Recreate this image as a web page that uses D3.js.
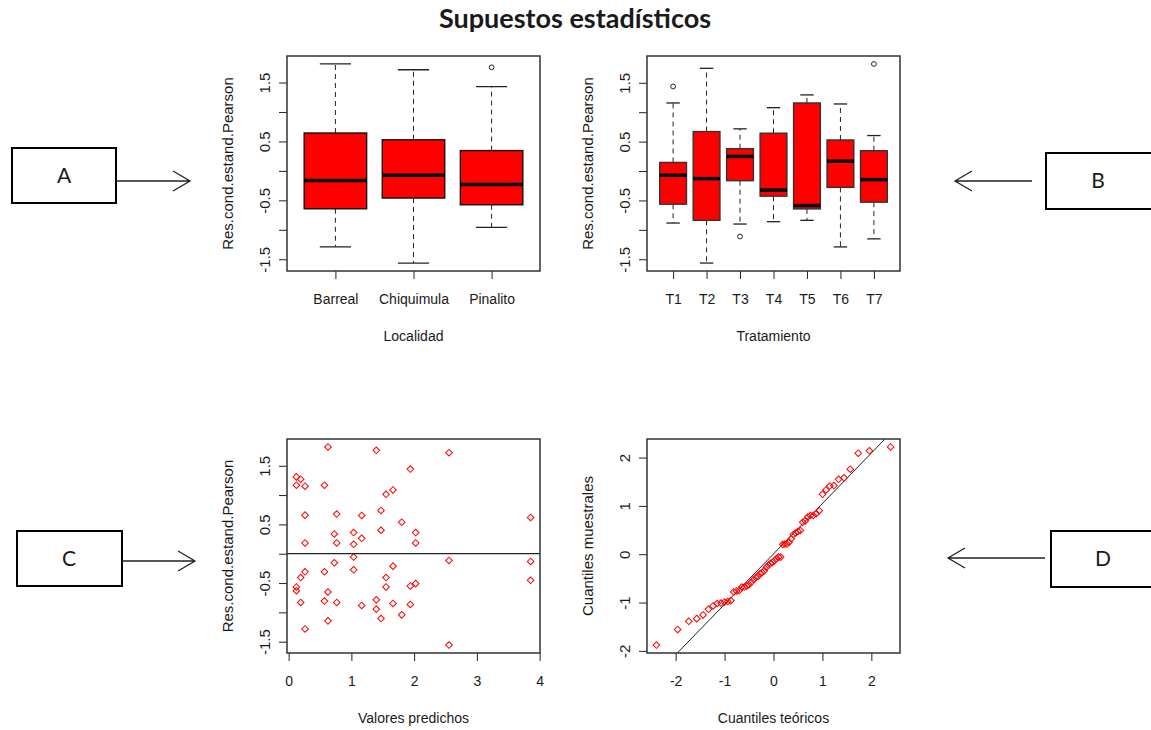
<!DOCTYPE html>
<html>
<head>
<meta charset="utf-8">
<script src="https://cdn.jsdelivr.net/npm/d3@7"></script>
<style>
body { margin: 0; background: #fff; }
text { font-family: "Liberation Sans", Arial, sans-serif; fill: #1a1a1a; }
</style>
</head>
<body>
<div id="chart"></div>
<script>
// ---- data ----
// A: residuals by locality (boxplot stats)
var locCategories = ["Barreal", "Chiquimula", "Pinalito"];
var locLower  = [-1.29, -1.564, -0.959];
var locQ1     = [-0.643, -0.461, -0.575];
var locMedian = [-0.163, -0.072, -0.232];
var locQ3     = [0.643, 0.528, 0.345];
var locUpper  = [1.815, 1.717, 1.432];
var locOutliers = [[], [], [1.758]];

// B: residuals by treatment
var trtCategories = ["T1", "T2", "T3", "T4", "T5", "T6", "T7"];
var trtLower  = [-0.884, -1.564, -0.901, -0.861, -0.838, -1.29, -1.153];
var trtQ1     = [-0.564, -0.838, -0.164, -0.427, -0.644, -0.278, -0.529];
var trtMedian = [-0.072, -0.129, 0.248, -0.324, -0.587, 0.168, -0.146];
var trtQ3     = [0.146, 0.671, 0.38, 0.643, 1.157, 0.528, 0.345];
var trtUpper  = [1.157, 1.746, 0.717, 1.077, 1.294, 1.14, 0.603];
var trtOutliers = [[1.437], [], [-1.113], [], [], [], [1.82]];

// C: predicted values vs residuals
var predX = [0.627, 1.397, 2.556, 0.123, 0.192, 0.123, 0.261, 0.570, 1.940, 1.663, 1.552, 0.261, 0.766, 1.164,
  1.472, 1.802, 3.857, 0.728, 1.036, 1.164, 1.472, 2.024, 0.261, 0.766, 1.036, 2.024, 1.036, 2.556, 3.857, 0.728,
  1.663, 0.261, 0.570, 1.036, 0.192, 1.552, 3.857, 0.123, 0.123, 1.552, 1.940, 2.024, 0.627, 0.192, 0.570, 0.766,
  1.164, 1.397, 1.397, 1.663, 1.940, 1.802, 0.627, 1.472, 0.261, 2.556];
var residY = [1.821, 1.764, 1.723, 1.310, 1.271, 1.168, 1.151, 1.168, 1.443, 1.088, 1.013, 0.658, 0.676, 0.652,
  0.738, 0.538, 0.618, 0.337, 0.360, 0.263, 0.400, 0.360, 0.183, 0.183, 0.160, 0.183, -0.057, -0.115, -0.132, -0.155,
  -0.212, -0.309, -0.309, -0.275, -0.407, -0.407, -0.453, -0.567, -0.630, -0.567, -0.550, -0.510, -0.653, -0.831, -0.808, -0.831,
  -0.882, -0.785, -0.945, -0.848, -0.865, -1.043, -1.145, -1.106, -1.283, -1.558];

// D: sample quantiles (sorted)
var sampleQuantiles = [-1.88, -1.556, -1.389, -1.333, -1.257, -1.14, -1.07, -1.02, -1.01, -0.99, -0.98, -0.96,
  -0.78, -0.76, -0.75, -0.68, -0.68, -0.66, -0.63, -0.58, -0.53, -0.48, -0.46, -0.40, -0.38, -0.34, -0.27, -0.23,
  -0.19, -0.17, -0.13, -0.09, -0.06, -0.06, 0.20, 0.21, 0.21, 0.25, 0.32, 0.41, 0.44, 0.47, 0.49, 0.66, 0.69,
  0.77, 0.80, 0.80, 0.84, 0.90, 1.24, 1.33, 1.41, 1.42, 1.55, 1.58, 1.76, 2.09, 2.14, 2.22];

// tick values / labels
var resTicks = [-1.5, -1, -0.5, 0, 0.5, 1, 1.5];
var resTickLabels = ["-1.5", "", "-0.5", "", "0.5", "", "1.5"];
var predTicks = [0, 1, 2, 3, 4];
var qqTicks = [-2, -1, 0, 1, 2];

// ---- layout ----
var W = 1151, H = 730;
var svg = d3.select("#chart").append("svg").attr("width", W).attr("height", H);

var panels = {
  A: {x: 287, y: 56, w: 253, h: 215},
  B: {x: 647, y: 56, w: 253, h: 215},
  C: {x: 287, y: 439, w: 253, h: 214},
  D: {x: 647, y: 439, w: 253, h: 214}
};

// R style axis range: data range + 4% on each side
function rExtent(vals) {
  var e = d3.extent(vals), d = (e[1] - e[0]) * 0.04;
  return [e[0] - d, e[1] + d];
}

// plain hyphen minus like R
function plain(d) { return String(d); }

// inverse normal cdf (Acklam)
function qnorm(p) {
  var a = [-3.969683028665376e+01, 2.209460984245205e+02, -2.759285104469687e+02, 1.383577518672690e+02, -3.066479806614716e+01, 2.506628277459239e+00];
  var b = [-5.447609879822406e+01, 1.615858368580409e+02, -1.556989798598866e+02, 6.680131188771972e+01, -1.328068155288572e+01];
  var c = [-7.784894002430293e-03, -3.223964580411365e-01, -2.400758277161838e+00, -2.549732539343734e+00, 4.374664141464968e+00, 2.938163982698783e+00];
  var d = [7.784695709041462e-03, 3.224671290700398e-01, 2.445134137142996e+00, 3.754408661907416e+00];
  var pl = 0.02425, q, r;
  if (p < pl) {
    q = Math.sqrt(-2 * Math.log(p));
    return (((((c[0]*q+c[1])*q+c[2])*q+c[3])*q+c[4])*q+c[5]) / ((((d[0]*q+d[1])*q+d[2])*q+d[3])*q+1);
  }
  if (p > 1 - pl) {
    q = Math.sqrt(-2 * Math.log(1 - p));
    return -(((((c[0]*q+c[1])*q+c[2])*q+c[3])*q+c[4])*q+c[5]) / ((((d[0]*q+d[1])*q+d[2])*q+d[3])*q+1);
  }
  q = p - 0.5; r = q * q;
  return (((((a[0]*r+a[1])*r+a[2])*r+a[3])*r+a[4])*r+a[5])*q / (((((b[0]*r+b[1])*r+b[2])*r+b[3])*r+b[4])*r+1);
}

// frame, axes and axis titles for one panel
function drawAxes(g, p, x, y, xTicks, xFormat, yTicks, yFormat, xTitle, yTitle) {
  var xa = g.append("g")
      .attr("transform", "translate(0," + p.h + ")")
      .call(d3.axisBottom(x).tickValues(xTicks).tickFormat(xFormat).tickSize(8).tickPadding(15));
  xa.select(".domain").remove();
  xa.selectAll("line").attr("stroke", "#222");
  xa.selectAll("text").attr("font-size", "14px").attr("font-family", null);

  var ya = g.append("g")
      .call(d3.axisLeft(y).tickValues(yTicks).tickFormat(yFormat).tickSize(8));
  ya.select(".domain").remove();
  ya.selectAll("line").attr("stroke", "#222");
  ya.selectAll("text")
      .attr("font-size", "15px").attr("font-family", null)
      .attr("transform", "rotate(-90)")
      .attr("text-anchor", "middle")
      .attr("x", 0).attr("y", -22).attr("dy", "0.35em");

  g.append("rect")
      .attr("width", p.w).attr("height", p.h)
      .attr("fill", "none").attr("stroke", "#333").attr("stroke-width", 1.5);

  g.append("text")
      .attr("x", p.w / 2).attr("y", p.h + 65).attr("dy", "0.35em")
      .attr("text-anchor", "middle").attr("font-size", "14px")
      .text(xTitle);
  g.append("text")
      .attr("transform", "translate(-59," + (p.h / 2) + ") rotate(-90)")
      .attr("dy", "0.35em")
      .attr("text-anchor", "middle").attr("font-size", "15px")
      .text(yTitle);
}

function boxPanel(p, cats, lower, q1, med, q3, upper, outliers, xTitle, edge) {
  var g = svg.append("g").attr("transform", "translate(" + p.x + "," + p.y + ")");
  var n = cats.length;
  var x = d3.scaleLinear().domain(rExtent([0.5, n + 0.5])).range([0, p.w]);
  var y = d3.scaleLinear().domain(rExtent(lower.concat(upper, d3.merge(outliers)))).range([p.h, 0]);
  var unit = x(1) - x(0);
  var idx = d3.range(n);

  var b = g.selectAll(".box").data(idx).enter().append("g").attr("class", "box");
  // whiskers
  b.append("line").attr("x1", function(i) { return x(i + 1); }).attr("x2", function(i) { return x(i + 1); })
      .attr("y1", function(i) { return y(q3[i]); }).attr("y2", function(i) { return y(upper[i]); })
      .attr("stroke", "#222").attr("stroke-dasharray", "5,4");
  b.append("line").attr("x1", function(i) { return x(i + 1); }).attr("x2", function(i) { return x(i + 1); })
      .attr("y1", function(i) { return y(q1[i]); }).attr("y2", function(i) { return y(lower[i]); })
      .attr("stroke", "#222").attr("stroke-dasharray", "5,4");
  // staples
  [upper, lower].forEach(function(arr) {
    b.append("line")
        .attr("x1", function(i) { return x(i + 1) - 0.2 * unit; })
        .attr("x2", function(i) { return x(i + 1) + 0.2 * unit; })
        .attr("y1", function(i) { return y(arr[i]); }).attr("y2", function(i) { return y(arr[i]); })
        .attr("stroke", "#222").attr("stroke-width", 1.3);
  });
  // boxes
  b.append("rect")
      .attr("x", function(i) { return x(i + 1) - 0.4 * unit; })
      .attr("width", 0.8 * unit)
      .attr("y", function(i) { return y(q3[i]); })
      .attr("height", function(i) { return y(q1[i]) - y(q3[i]); })
      .attr("fill", "#ff0000").attr("stroke", edge).attr("stroke-width", 1.4);
  // medians
  b.append("line")
      .attr("x1", function(i) { return x(i + 1) - 0.4 * unit; })
      .attr("x2", function(i) { return x(i + 1) + 0.4 * unit; })
      .attr("y1", function(i) { return y(med[i]); }).attr("y2", function(i) { return y(med[i]); })
      .attr("stroke", "#000").attr("stroke-width", 3.5);
  // outliers
  idx.forEach(function(i) {
    g.selectAll(null).data(outliers[i]).enter().append("circle")
        .attr("cx", x(i + 1)).attr("cy", function(v) { return y(v); })
        .attr("r", 2.4).attr("fill", "none").attr("stroke", "#222").attr("stroke-width", 1);
  });

  drawAxes(g, p, x, y, d3.range(1, n + 1), function(d) { return cats[d - 1]; },
      resTicks, function(d, i) { return resTickLabels[i]; }, xTitle, "Res.cond.estand.Pearson");
}

var diamond = d3.symbol().type(d3.symbolSquare).size(22);

function clipFor(id, p, g) {
  g.append("clipPath").attr("id", id).append("rect").attr("width", p.w).attr("height", p.h);
  return "url(#" + id + ")";
}

// ---- title ----
svg.append("text")
    .attr("x", 575).attr("y", 28)
    .attr("text-anchor", "middle")
    .style("font-family", "Lato, 'Open Sans', sans-serif")
    .attr("font-weight", "bold").attr("font-size", "27px").attr("fill", "#000")
    .text("Supuestos estadísticos");

// ---- A and B ----
boxPanel(panels.A, locCategories, locLower, locQ1, locMedian, locQ3, locUpper, locOutliers, "Localidad", "#111");
boxPanel(panels.B, trtCategories, trtLower, trtQ1, trtMedian, trtQ3, trtUpper, trtOutliers, "Tratamiento", "#333");

// ---- C: residuals vs predicted ----
(function() {
  var p = panels.C;
  var g = svg.append("g").attr("transform", "translate(" + p.x + "," + p.y + ")");
  var x = d3.scaleLinear().domain(rExtent(predX)).range([0, p.w]);
  var y = d3.scaleLinear().domain(rExtent(residY)).range([p.h, 0]);
  var clip = clipFor("clipC", p, g);
  g.selectAll(".pt").data(predX).enter().append("path")
      .attr("d", diamond)
      .attr("transform", function(d, i) { return "translate(" + x(d) + "," + y(residY[i]) + ") rotate(45)"; })
      .attr("fill", "none").attr("stroke", "#ff0000").attr("stroke-width", 1);
  g.append("line").attr("clip-path", clip)
      .attr("x1", 0).attr("x2", p.w).attr("y1", y(0)).attr("y2", y(0))
      .attr("stroke", "#222").attr("stroke-width", 1.2);
  drawAxes(g, p, x, y, predTicks, plain, resTicks, function(d, i) { return resTickLabels[i]; },
      "Valores predichos", "Res.cond.estand.Pearson");
})();

// ---- D: normal QQ plot ----
(function() {
  var p = panels.D;
  var n = sampleQuantiles.length;
  var theo = sampleQuantiles.map(function(d, i) { return qnorm((i + 0.5) / n); });
  var g = svg.append("g").attr("transform", "translate(" + p.x + "," + p.y + ")");
  var x = d3.scaleLinear().domain(rExtent(theo)).range([0, p.w]);
  var y = d3.scaleLinear().domain(rExtent(sampleQuantiles)).range([p.h, 0]);
  var clip = clipFor("clipD", p, g);
  // qqline through the quartiles
  var s1 = d3.quantile(sampleQuantiles, 0.25), s3 = d3.quantile(sampleQuantiles, 0.75);
  var t1 = qnorm(0.25), t3 = qnorm(0.75);
  var slope = (s3 - s1) / (t3 - t1), icpt = s1 - slope * t1;
  var xd = x.domain();
  g.append("line").attr("clip-path", clip)
      .attr("x1", x(xd[0])).attr("x2", x(xd[1]))
      .attr("y1", y(icpt + slope * xd[0])).attr("y2", y(icpt + slope * xd[1]))
      .attr("stroke", "#222").attr("stroke-width", 1);
  g.selectAll(".pt").data(sampleQuantiles).enter().append("path")
      .attr("d", diamond)
      .attr("transform", function(d, i) { return "translate(" + x(theo[i]) + "," + y(d) + ") rotate(45)"; })
      .attr("fill", "none").attr("stroke", "#ff0000").attr("stroke-width", 1);
  drawAxes(g, p, x, y, qqTicks, plain, qqTicks, plain,
      "Cuantiles teóricos", "Cuantiles muestrales");
})();

// ---- letter boxes with arrows ----
var notes = [
  {label: "A", box: [12, 148, 104, 55], from: 116, to: 190, ay: 181},
  {label: "B", box: [1046, 153, 106, 56], from: 1032, to: 955, ay: 181},
  {label: "C", box: [17, 531, 105, 55], from: 122, to: 195, ay: 561},
  {label: "D", box: [1051, 531, 110, 56], from: 1045, to: 948, ay: 558}
];
var ng = svg.selectAll(".note").data(notes).enter().append("g").attr("class", "note");
ng.append("rect")
    .attr("x", function(d) { return d.box[0]; }).attr("y", function(d) { return d.box[1]; })
    .attr("width", function(d) { return d.box[2]; }).attr("height", function(d) { return d.box[3]; })
    .attr("fill", "#fff").attr("stroke", "#000").attr("stroke-width", 2);
ng.append("text")
    .attr("x", function(d) { return d.box[0] + 52; }).attr("y", function(d) { return d.box[1] + d.box[3] / 2; })
    .attr("dy", "0.35em").attr("text-anchor", "middle")
    .style("font-family", "Lato, 'Open Sans', sans-serif").attr("font-size", "21px").attr("fill", "#000")
    .text(function(d) { return d.label; });
ng.append("path")
    .attr("d", function(d) {
      var dir = d.to > d.from ? 1 : -1;
      return "M" + d.from + "," + d.ay + "H" + d.to +
        "M" + (d.to - dir * 17) + "," + (d.ay - 10) + "L" + d.to + "," + d.ay + "L" + (d.to - dir * 17) + "," + (d.ay + 10);
    })
    .attr("fill", "none").attr("stroke", "#222").attr("stroke-width", 1.3);
</script>
</body>
</html>
